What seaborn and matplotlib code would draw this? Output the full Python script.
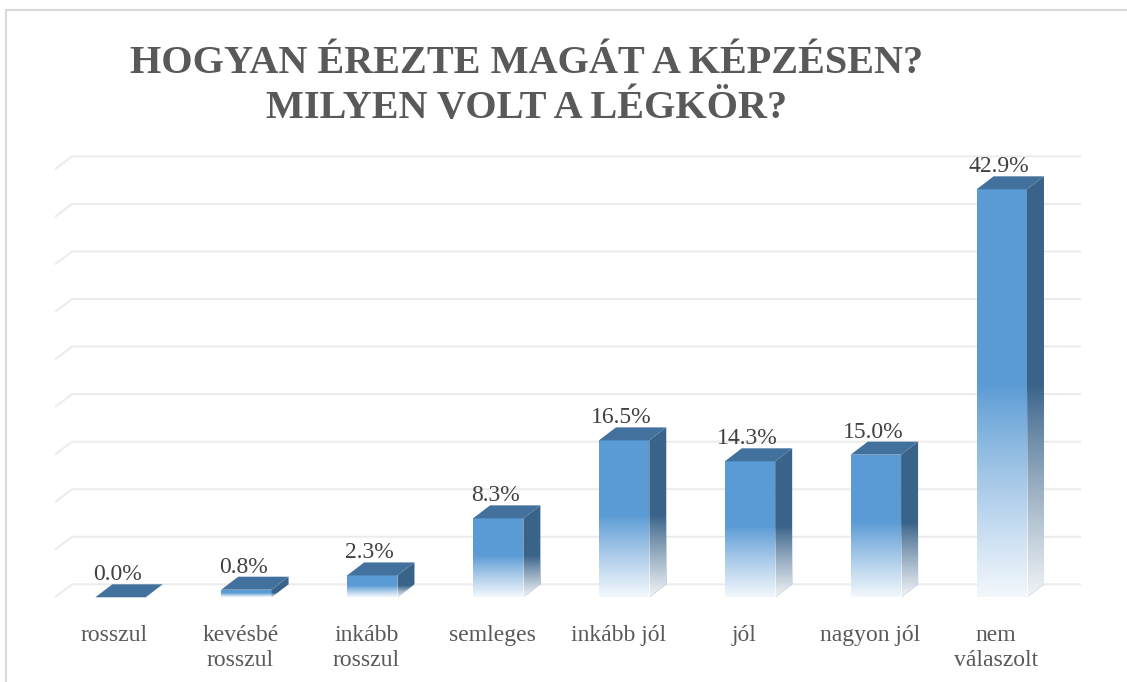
import numpy as np
import matplotlib
matplotlib.use('Agg')
import matplotlib.pyplot as plt
from matplotlib.patches import Polygon
from matplotlib.lines import Line2D
import seaborn as sns

# --- Adatok ---
kategoriak = ['rosszul', 'kevésbé rosszul', 'inkább rosszul', 'semleges',
              'inkább jól', 'jól', 'nagyon jól', 'nem válaszolt']
tengely_feliratok = ['rosszul', 'kevésbé\nrosszul', 'inkább\nrosszul', 'semleges',
                     'inkább jól', 'jól', 'nagyon jól', 'nem\nválaszolt']
szazalekok = [0.0, 0.8, 2.3, 8.3, 16.5, 14.3, 15.0, 42.9]
racsvonalak = [0, 5, 10, 15, 20, 25, 30, 35, 40, 45]
cim = 'HOGYAN ÉREZTE MAGÁT A KÉPZÉSEN?\nMILYEN VOLT A LÉGKÖR?'

sns.set_style('white')
plt.rcParams['font.family'] = ['Liberation Serif', 'DejaVu Serif']

ELO = '#5B9BD5'
TETO = '#43719E'
OLDAL = '#3A6389'
RACS = '#EBEBEB'
KERET = '#D9D9D9'

W, H = 1127, 682
fig = plt.figure(figsize=(W / 100, H / 100), dpi=100)
fig.patch.set_facecolor('white')

# tengely doboza pixelben
L, R, T, B = 40, 1100, 140, 610
ax = fig.add_axes([L / W, 1 - B / H, (R - L) / W, (B - T) / H])

# pixel -> adat megfeleltetés
x0, px_kat = 120.5, 125.9
y0, px_szaz = 597.3, 9.51
mx = 17 / px_kat   # 3D mélység vízszintesen
my = 13 / px_szaz  # 3D mélység függőlegesen

# --- Rácsvonalak a hátsó falon ---
fal = (55 - x0) / px_kat
jobb = (1081 - x0) / px_kat
for v in racsvonalak:
    ax.plot([fal, fal + mx, jobb], [v, v + my, v + my], color=RACS, lw=1.4,
            zorder=0, solid_capstyle='butt')

# --- Oszlopok ---
sns.barplot(x=kategoriak, y=szazalekok, color=ELO, saturation=1, width=0.4,
            linewidth=0, ax=ax, zorder=2)


def atmenet(y_also, y_felso, h, n=200):
    """Fehér, átlátszóság-átmenetes réteg (alul fehér, felül átlátszó)."""
    ys = np.linspace(y_also, y_felso, n)
    t = np.clip(ys / max(h, 1e-9), 0, 1)
    alfa = 0.93 * np.clip((0.52 - t) / 0.52, 0, 1) ** 0.9
    kep = np.ones((n, 2, 4))
    kep[:, :, 3] = alfa[:, None]
    return kep


for p in list(ax.patches):
    xl, w, h = p.get_x(), p.get_width(), p.get_height()
    xr = xl + w
    oldal = Polygon([(xr, 0), (xr + mx, my), (xr + mx, h + my), (xr, h)],
                    closed=True, facecolor=OLDAL, edgecolor='none', zorder=2)
    ax.add_patch(oldal)
    teto = Polygon([(xl, h), (xr, h), (xr + mx, h + my), (xl + mx, h + my)],
                   closed=True, facecolor=TETO, edgecolor='none', zorder=3)
    ax.add_patch(teto)
    if h > 0:
        im = ax.imshow(atmenet(0, h, h), extent=[xl, xr, 0, h], origin='lower',
                       aspect='auto', interpolation='bilinear', zorder=2.5)
        im.set_clip_path(p)
        im2 = ax.imshow(atmenet(0, h + my, h), extent=[xr, xr + mx, 0, h + my],
                        origin='lower', aspect='auto', interpolation='bilinear',
                        zorder=2.5)
        im2.set_clip_path(oldal)

# --- Adatfeliratok ---
for i, v in enumerate(szazalekok):
    ax.text(i - 3 / px_kat, v + my + 4 / px_szaz, f'{v:.1f}%', ha='center',
            va='baseline', fontsize=17, color='#404040', zorder=4)

# --- Tengelyek ---
ax.set_xticks(np.arange(len(kategoriak)) - 6 / px_kat)
ax.set_xticklabels(tengely_feliratok, fontsize=17, color='#595959',
                   linespacing=1.25)
ax.tick_params(axis='x', length=0, pad=11)
ax.set_yticks([])
ax.set_xlabel('')
ax.set_ylabel('')
for s in ax.spines.values():
    s.set_visible(False)
ax.set_facecolor('none')
ax.set_xlim((L - x0) / px_kat, (R - x0) / px_kat)
ax.set_ylim((y0 - B) / px_szaz, (y0 - T) / px_szaz)

# --- Cím ---
fig.text(527 / W, 1 - 45 / H, cim, ha='center', va='top', fontsize=29,
         fontweight='bold', color='#595959', linespacing=1.3)

# --- Keret ---
fig.add_artist(Line2D([6 / W, 6 / W], [0, 1 - 10 / H], transform=fig.transFigure,
                      color=KERET, lw=1.5))
fig.add_artist(Line2D([6 / W, 1], [1 - 10 / H, 1 - 10 / H], transform=fig.transFigure,
                      color=KERET, lw=1.5))

fig.savefig('out.png', dpi=100)
plt.close(fig)
